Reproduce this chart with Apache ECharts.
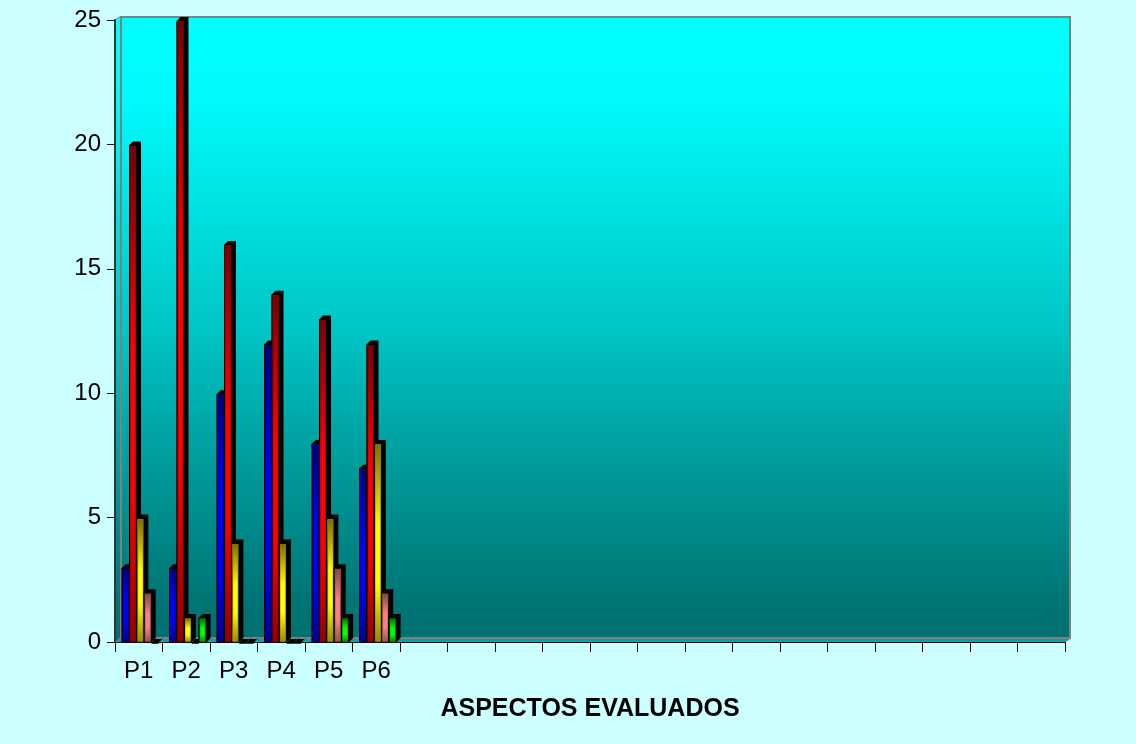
<!DOCTYPE html>
<html>
<head>
<meta charset="utf-8">
<style>
  html, body { margin: 0; padding: 0; background: #ccffff; }
  #chart { width: 1136px; height: 744px; }
</style>
<script src="https://cdn.jsdelivr.net/npm/echarts@6/dist/echarts.min.js"></script>
</head>
<body>
<div id="chart"></div>
<script>
const categories = ['P1', 'P2', 'P3', 'P4', 'P5', 'P6', '', '', '', '', '', '', '', '', '', '', '', '', '', '']
const serie1 = [3, 3, 10, 12, 8, 7]
const serie2 = [20, 25, 16, 14, 13, 12]
const serie3 = [5, 1, 4, 4, 5, 8]
const serie4 = [2, 0, 0, 0, 3, 2]
const serie5 = [0, 1, 0, 0, 1, 1]
const yTicks = { min: 0, max: 25, interval: 5 }

const font = '"Liberation Sans", Arial, sans-serif'
// [oscuro, brillante, oscuro transparente, oscuro base]
const shades = [
  ['rgba(0,0,120,1)', '#0000ff', 'rgba(0,0,120,0)', 'rgba(0,0,120,0.8)'],
  ['rgba(120,0,0,1)', '#ff0000', 'rgba(120,0,0,0)', 'rgba(120,0,0,0.8)'],
  ['rgba(125,110,0,1)', '#ffff00', 'rgba(125,110,0,0)', 'rgba(125,110,0,0.8)'],
  ['rgba(130,70,70,1)', '#ff8080', 'rgba(130,70,70,0)', 'rgba(130,70,70,0.8)'],
  ['rgba(0,110,0,1)', '#00ff00', 'rgba(0,110,0,0)', 'rgba(0,110,0,0.8)']
]

const myChart = echarts.init(document.getElementById('chart'))

const wallStops = [
  { offset: 0, color: '#00ffff' },
  { offset: 0.13, color: '#00fbfb' },
  { offset: 0.5, color: '#00c6c6' },
  { offset: 0.65, color: '#00a8a8' },
  { offset: 0.94, color: '#007474' },
  { offset: 1, color: '#007070' }
]

function wallGrad() {
  return new echarts.graphic.LinearGradient(0, 0, 0, 1, wallStops)
}

// caja 3D: cara frontal con degradado y lateral/tapa en negro
function makeRenderItem(idx) {
  return function (params, api) {
    const band = api.size([1, 0])[0]
    const base = api.coord([api.value(0), 0])
    const top = api.coord([api.value(0), api.value(1)])
    const w = 8
    const d = 4
    const x = base[0] - band / 2 + band * 0.14 + idx * band * 0.155
    const y0 = base[1]
    const y1 = top[1] + 1
    const h = Math.max(y0 - y1, 0)
    const s = shades[idx]
    const across = new echarts.graphic.LinearGradient(0, 0, 1, 0, [
      { offset: 0, color: s[0] },
      { offset: 0.3, color: s[1] },
      { offset: 0.7, color: s[1] },
      { offset: 1, color: s[0] }
    ])
    const along = new echarts.graphic.LinearGradient(0, 0, 0, 1, [
      { offset: 0, color: s[0] },
      { offset: 0.42, color: s[2] },
      { offset: 0.7, color: s[2] },
      { offset: 1, color: s[3] }
    ])
    return {
      type: 'group',
      children: [
        {
          type: 'polygon',
          shape: { points: [[x, y1], [x + d, y1 - d], [x + w + d, y1 - d], [x + w + d, y0 - d], [x + w, y0], [x, y0]] },
          style: { fill: '#000' }
        },
        {
          type: 'rect',
          shape: { x: x + 0.5, y: y1, width: w - 1, height: h },
          style: { fill: across, stroke: '#000', lineWidth: 1 }
        },
        {
          type: 'rect',
          shape: { x: x + 1, y: y1 + 0.5, width: w - 2, height: Math.max(h - 1, 0) },
          style: { fill: along }
        }
      ]
    }
  }
}

function makeSeries(values, idx) {
  return {
    type: 'custom',
    data: values.map((v, i) => [i, v]),
    encode: { x: 0, y: 1 },
    clip: false,
    renderItem: makeRenderItem(idx)
  }
}

myChart.setOption({
  animation: false,
  backgroundColor: '#ccffff',
  grid: { left: 115, right: 71, top: 20, bottom: 102 },
  graphic: [
    {
      type: 'polygon', z: -10, silent: true,
      shape: { points: [[115, 20], [121, 16], [121, 638], [115, 642]] },
      style: { fill: wallGrad(), stroke: '#808080', lineWidth: 1 }
    },
    {
      type: 'polygon', z: -10, silent: true,
      shape: { points: [[115, 642], [121, 638], [1071, 638], [1065, 642]] },
      style: { fill: '#00a5a5', stroke: '#808080', lineWidth: 1 }
    },
    {
      type: 'rect', z: -9, silent: true,
      shape: { x: 121, y: 17, width: 949, height: 621 },
      style: { fill: wallGrad(), stroke: '#808080', lineWidth: 2 }
    }
  ],
  xAxis: {
    type: 'category',
    data: categories,
    name: 'ASPECTOS EVALUADOS',
    nameLocation: 'middle',
    nameGap: 55,
    nameTextStyle: { color: '#000', fontSize: 25, fontWeight: 'bold', fontFamily: font },
    axisLine: { lineStyle: { color: '#111', width: 1 } },
    axisTick: { show: true, length: 10, alignWithLabel: false, lineStyle: { color: '#111' } },
    axisLabel: { interval: 0, color: '#000', fontSize: 24, fontFamily: font, margin: 17 },
    splitLine: { show: false }
  },
  yAxis: {
    type: 'value',
    min: yTicks.min,
    max: yTicks.max,
    interval: yTicks.interval,
    axisLine: { show: true, lineStyle: { color: '#333', width: 2 } },
    axisTick: { show: true, length: 8, lineStyle: { color: '#111' } },
    axisLabel: { color: '#000', fontSize: 24, fontFamily: font, margin: 14, padding: [3, 0, 0, 0] },
    splitLine: { show: false }
  },
  series: [serie1, serie2, serie3, serie4, serie5].map(makeSeries)
})
</script>
</body>
</html>
